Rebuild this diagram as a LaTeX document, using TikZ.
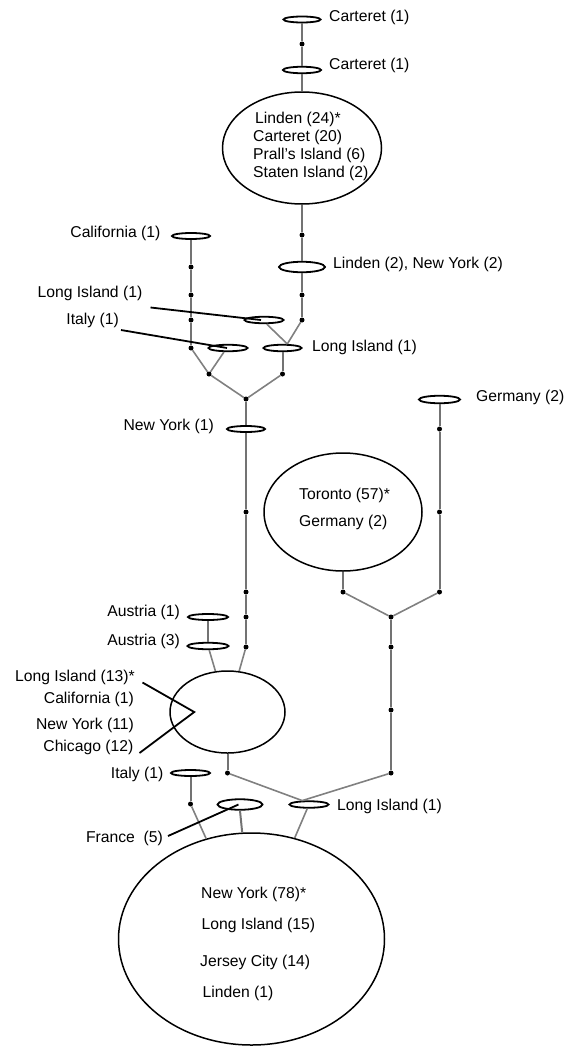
\documentclass[tikz,border=0pt]{standalone}
\usepackage{fontspec}
\setmainfont{Liberation Sans}
\usetikzlibrary{shapes.geometric}
\begin{document}
\begin{tikzpicture}[x=1pt,y=-1pt,
    hap/.style 2 args={draw,ellipse,line width=1.8pt,inner sep=0pt,minimum width=#1,minimum height=#2},
    big/.style 2 args={draw,ellipse,line width=1.5pt,inner sep=0pt,minimum width=#1,minimum height=#2},
    lbl/.style={inner sep=0pt,font=\fontsize{15.7}{18}\selectfont,text height=11.3pt,text depth=3.3pt},
    dot/.style={circle,fill=black,inner sep=0pt,minimum size=5pt},
    stem/.style={draw=black!55,line width=2pt},
    branch/.style={draw=black!50,line width=1.6pt},
    lead/.style={draw=black,line width=1.8pt}]
  \useasboundingbox (0,0) rectangle (572,1049);

  \node[hap={37}{6}] (car1) at (302,19.5) {};
  \node[hap={38}{6.5}] (car2) at (302,70) {};
  \node[big={159}{112}] (lin) at (302,148) {};
  \node[hap={46}{10.5}] (lny) at (302,267) {};
  \node[hap={38}{6}] (cal) at (191,236) {};
  \node[hap={39}{6.5}] (liA) at (264,320) {};
  \node[hap={39}{6.5}] (ita) at (228,348) {};
  \node[hap={38}{6.5}] (liB) at (282.5,348) {};
  \node[hap={38}{6}] (nyA) at (246,429) {};
  \node[hap={41}{7.5}] (ger) at (439.5,399.5) {};
  \node[big={158}{118}] (tor) at (343,512) {};
  \node[hap={40}{6}] (aus1) at (208,617) {};
  \node[hap={41}{6.5}] (aus3) at (208,646) {};
  \node[big={115}{82}] (li13) at (227.5,712) {};
  \node[hap={39}{6}] (itb) at (190.5,773) {};
  \node[hap={45}{10.5}] (fra) at (240,804.5) {};
  \node[hap={39}{6.5}] (lic) at (309,804.5) {};
  \node[big={266}{212}] (ny) at (251.5,939) {};

  \node[dot] (d1) at (302,44) {};
  \node[dot] (d2) at (302,235) {};
  \node[dot] (d3) at (302,295) {};
  \node[dot] (d4) at (302,320) {};
  \node[dot] (c1) at (191,267) {};
  \node[dot] (c2) at (191,295) {};
  \node[dot] (c3) at (191,320) {};
  \node[dot] (c4) at (191,348) {};
  \node[dot] (j1) at (209,374) {};
  \node[dot] (j2) at (282.5,374) {};
  \node[dot] (j3) at (246,399) {};
  \node[dot] (m1) at (246,512) {};
  \node[dot] (m2) at (246,592) {};
  \node[dot] (m3) at (246,617) {};
  \node[dot] (m4) at (246,647) {};
  \node[dot] (g1) at (439.5,429) {};
  \node[dot] (g2) at (439.5,512) {};
  \node[dot] (g3) at (439.5,592) {};
  \node[dot] (t1) at (343,592) {};
  \node[dot] (j4) at (391,617) {};
  \node[dot] (r1) at (391,647) {};
  \node[dot] (r2) at (391,710) {};
  \node[dot] (r3) at (391,773) {};
  \node[dot] (k1) at (227.5,773) {};
  \node[dot] (i1) at (190.5,804) {};

  \node[lbl,anchor=west] (car1l) at (329,18) {Carteret (1)};
  \node[lbl,anchor=west] (car2l) at (329,66) {Carteret (1)};
  \node[lbl,anchor=west] (lin1) at (255,119) {Linden (24)*};
  \node[lbl,anchor=west] (lin2) at (253,137) {Carteret (20)};
  \node[lbl,anchor=west] (lin3) at (253,155) {Prall’s Island (6)};
  \node[lbl,anchor=west] (lin4) at (253,173) {Staten Island (2)};
  \node[lbl,anchor=west] (lnyl) at (333,264) {Linden (2), New York (2)};
  \node[lbl,anchor=east] (call) at (160.5,233) {California (1)};
  \node[lbl,anchor=east] (liAl) at (142.5,293) {Long Island (1)};
  \node[lbl,anchor=east] (ital) at (119,320.5) {Italy (1)};
  \node[lbl,anchor=west] (liBl) at (312,347) {Long Island (1)};
  \node[lbl,anchor=east] (nyAl) at (214,426.5) {New York (1)};
  \node[lbl,anchor=west] (gerl) at (476,397) {Germany (2)};
  \node[lbl,anchor=west] (tor1) at (299,495) {Toronto (57)*};
  \node[lbl,anchor=west] (tor2) at (299,522.5) {Germany (2)};
  \node[lbl,anchor=east] (aus1l) at (180,612.5) {Austria (1)};
  \node[lbl,anchor=east] (aus3l) at (180,641) {Austria (3)};
  \node[lbl,anchor=east] (l13a) at (135,677.5) {Long Island (13)*};
  \node[lbl,anchor=east] (l13b) at (134,699) {California (1)};
  \node[lbl,anchor=east] (l13c) at (134,725.5) {New York (11)};
  \node[lbl,anchor=east] (l13d) at (133.5,747.5) {Chicago (12)};
  \node[lbl,anchor=east] (itbl) at (163.5,774) {Italy (1)};
  \node[lbl,anchor=west] (licl) at (337,806) {Long Island (1)};
  \node[lbl,anchor=east] (fral) at (163,838) {France\ \ (5)};
  \node[lbl,anchor=west] (ny1) at (201,894) {New York (78)*};
  \node[lbl,anchor=west] (ny2) at (201.5,925.5) {Long Island (15)};
  \node[lbl,anchor=west] (ny3) at (200,962) {Jersey City (14)};
  \node[lbl,anchor=west] (ny4) at (202.5,993) {Linden (1)};

  \draw[stem] (car1) -- (d1) -- (car2);
  \draw[stem] (car2) -- (lin);
  \draw[stem] (lin) -- (d2) -- (lny) -- (d3) -- (d4);
  \draw[branch] (d4) -- (liB.40);
  \draw[branch] (liA.-56) -- (liB.40);
  \draw[stem] (liB) -- (j2);
  \draw[stem] (cal) -- (c1) -- (c2) -- (c3) -- (c4);
  \draw[branch] (c4) -- (j1);
  \draw[branch] (ita.-135) -- (j1);
  \draw[branch] (j1) -- (j3) -- (j2);
  \draw[stem] (j3) -- (nyA) -- (m1) -- (m2) -- (m3) -- (m4);
  \draw[branch] (m4) -- (li13);
  \draw[stem] (aus1) -- (aus3);
  \draw[branch] (aus3) -- (li13);
  \draw[stem] (li13) -- (k1);
  \draw[branch] (k1) -- (lic.150);
  \draw[stem] (ger) -- (g1) -- (g2) -- (g3);
  \draw[stem] (tor) -- (t1);
  \draw[branch] (t1) -- (j4) -- (g3);
  \draw[stem] (j4) -- (r1) -- (r2) -- (r3);
  \draw[branch] (r3) -- (lic.150);
  \draw[stem] (itb) -- (i1);
  \draw[branch] (i1) -- (ny);
  \draw[stem] (fra.south) -- (ny.95);
  \draw[branch] (lic) -- (ny);

  \draw[lead] ([shift={(8,7)}]liAl.south east) -- ([xshift=-3pt]liA.center);
  \draw[lead] ([shift={(2,2)}]ital.south east) -- ([xshift=-1pt]ita.center);
  \draw[lead] ([shift={(7.5,5)}]l13a.east) -- ([xshift=25pt]li13.west) -- ([shift={(6,5.5)}]l13d.east);
  \draw[lead] ([shift={(5,-2)}]fral.east) -- ([xshift=-1.5pt]fra.center);
\end{tikzpicture}
\end{document}
